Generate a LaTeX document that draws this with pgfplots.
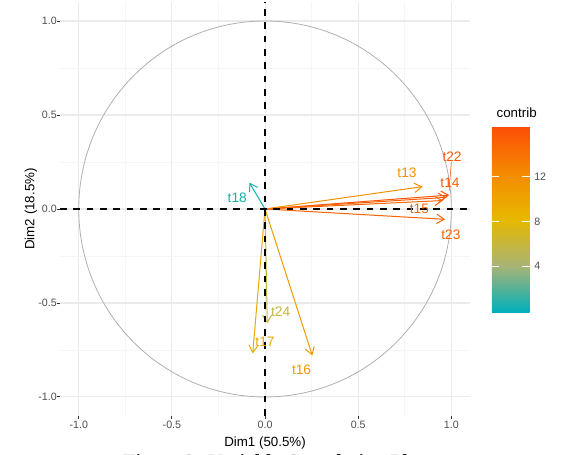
\documentclass[border=0pt]{standalone}
\usepackage{pgfplots}
\usepackage{pgfplotstable}
\pgfplotsset{compat=1.18}
\usepackage{fontspec}
\setmainfont{Liberation Sans}
\newfontfamily\capfont{Liberation Serif}
\usetikzlibrary{arrows.meta}
\definecolor{gridmaj}{HTML}{EBEBEB}
\definecolor{gridmin}{HTML}{F5F5F5}
\definecolor{ticklab}{HTML}{4D4D4D}
\definecolor{tickcol}{HTML}{333333}
\definecolor{circ}{HTML}{B0B0B0}
% label colours = colormap colour at each variable's contribution
\definecolor{c22}{RGB}{251,86,6}
\definecolor{c14}{RGB}{250,94,6}
\definecolor{c15}{RGB}{249,103,5}
\definecolor{c23}{RGB}{249,98,5}
\definecolor{c13}{RGB}{242,144,1}
\definecolor{c16}{RGB}{239,154,1}
\definecolor{c17}{RGB}{235,168,0}
\definecolor{c24}{RGB}{197,182,62}
\definecolor{c18}{RGB}{22,176,172}

\pgfplotstableread{
name x y u v c
t22 0 0 0.989 0.074 15.92
t14 0 0 0.975 0.062 15.43
t15 0 0 0.955 0.045 14.78
t23 0 0 0.966 -0.055 15.14
t13 0 0 0.846 0.119 11.81
t16 0 0 0.254 -0.780 10.89
t17 0 0 -0.066 -0.768 9.61
t24 0 0 0.012 -0.608 5.99
t18 0 0 -0.084 0.140 0.44
}\vecdata

\begin{document}
\begin{tikzpicture}
\begin{axis}[
  name=ax,
  scale only axis, width=307.4pt, height=310.2pt,
  xmin=-1.1, xmax=1.1, ymin=-1.1, ymax=1.1,
  clip=false,
  axis line style={draw=none},
  xtick={-1,-0.5,0,0.5,1}, ytick={-1,-0.5,0,0.5,1},
  minor xtick={-0.75,-0.25,0.25,0.75}, minor ytick={-0.75,-0.25,0.25,0.75},
  grid=both,
  major grid style={gridmaj, line width=0.8pt},
  minor grid style={gridmin, line width=0.5pt},
  tick align=outside, tick pos=left,
  major tick length=2.5pt, minor tick length=0pt,
  tick style={tickcol, line width=0.7pt},
  /pgf/number format/assume math mode=true,
  xticklabel style={yshift=2pt, /pgf/number format/.cd, fixed, fixed zerofill, precision=1},
  yticklabel style={xshift=3.5pt, /pgf/number format/.cd, fixed, fixed zerofill, precision=1},
  tick label style={font=\fontsize{8}{9}\selectfont, text=ticklab},
  xlabel={Dim1 (50.5\%)},
  ylabel={Dim2 (18.5\%)},
  xlabel style={at={(axis description cs:0.5,-0.0754)}, anchor=base, font=\fontsize{10}{12}\selectfont},
  ylabel style={at={(axis description cs:-0.071,0.5)}, anchor=center, font=\fontsize{10}{12}\selectfont},
  colormap={contrib}{rgb255(0cm)=(0,175,187); rgb255(1cm)=(168,180,116); rgb255(2cm)=(231,184,0); rgb255(3cm)=(244,138,1); rgb255(4cm)=(252,78,7)},
  point meta min=-0.1, point meta max=16.5,
  colorbar,
  colorbar/width=28.2pt,
  colorbar style={
    at={(parent axis.south west)}, anchor=north west,
    xshift=315.4pt, yshift=216.8pt,
    scale only axis,
    width=28.2pt, height=139pt,
    axis line style={draw=none},
    ytick={4,8,12},
    tick align=inside,
    major tick length=5.6pt,
    ytick style={draw=white, line width=0.8pt},
    ytick pos=both, yticklabel pos=right,
    /pgf/number format/assume math mode=true,
    yticklabel style={font=\fontsize{8}{9}\selectfont, text=ticklab},
  },
]
\draw[circ, line width=0.6pt] (axis cs:0,0) circle[radius=1];

\addplot[
  point meta=\thisrow{c},
  quiver={u=\thisrow{u}, v=\thisrow{v}, colored=mapped color,
    every arrow/.append style={-{Straight Barb[length=5.5pt,width=7pt]}, line width=0.75pt}},
] table[x=x, y=y] \vecdata;

\addplot[c22, line width=0.4pt] coordinates {(1.0,0.25) (0.988,0.095)};

\pgfplotsset{lab/.style={only marks, mark=none, nodes near coords, point meta=explicit symbolic,
  nodes near coords align={center},
  every node near coord/.append style={anchor=center, inner sep=0pt, font=\fontsize{10.3}{12}\selectfont, text=#1}}}
\addplot[lab=c22] coordinates {(1.004,0.277)[t22]};
\addplot[lab=c14] coordinates {(0.993,0.138)[t14]};
\addplot[lab=c15] coordinates {(0.829,0.000)[t15]};
\addplot[lab=c23] coordinates {(0.998,-0.138)[t23]};
\addplot[lab=c13] coordinates {(0.762,0.191)[t13]};
\addplot[lab=c16] coordinates {(0.196,-0.856)[t16]};
\addplot[lab=c17] coordinates {(0.000,-0.705)[t17]};
\addplot[lab=c24] coordinates {(0.084,-0.546)[t24]};
\addplot[lab=c18] coordinates {(-0.149,0.062)[t18]};

\addplot[black, line width=1pt, dash pattern=on 5pt off 5pt] coordinates {(-1.1,0) (1.1,0)};
\addplot[black, line width=1pt, dash pattern=on 5pt off 5pt] coordinates {(0,-1.1) (0,1.1)};

\node[anchor=base west, font=\fontsize{10}{12}\selectfont] at (axis description cs:1.0537,0.72) {contrib};
\node[anchor=base, font=\capfont\bfseries\fontsize{15}{18}\selectfont] at (axis description cs:0.522,-0.128) {Figure 3: Variable Correlation Plot};
\end{axis}
\pgfresetboundingbox
\useasboundingbox ([xshift=-45.1pt, yshift=-29.4pt]ax.south west) rectangle ([xshift=377.2pt, yshift=311.85pt]ax.south west);
\end{tikzpicture}
\end{document}
